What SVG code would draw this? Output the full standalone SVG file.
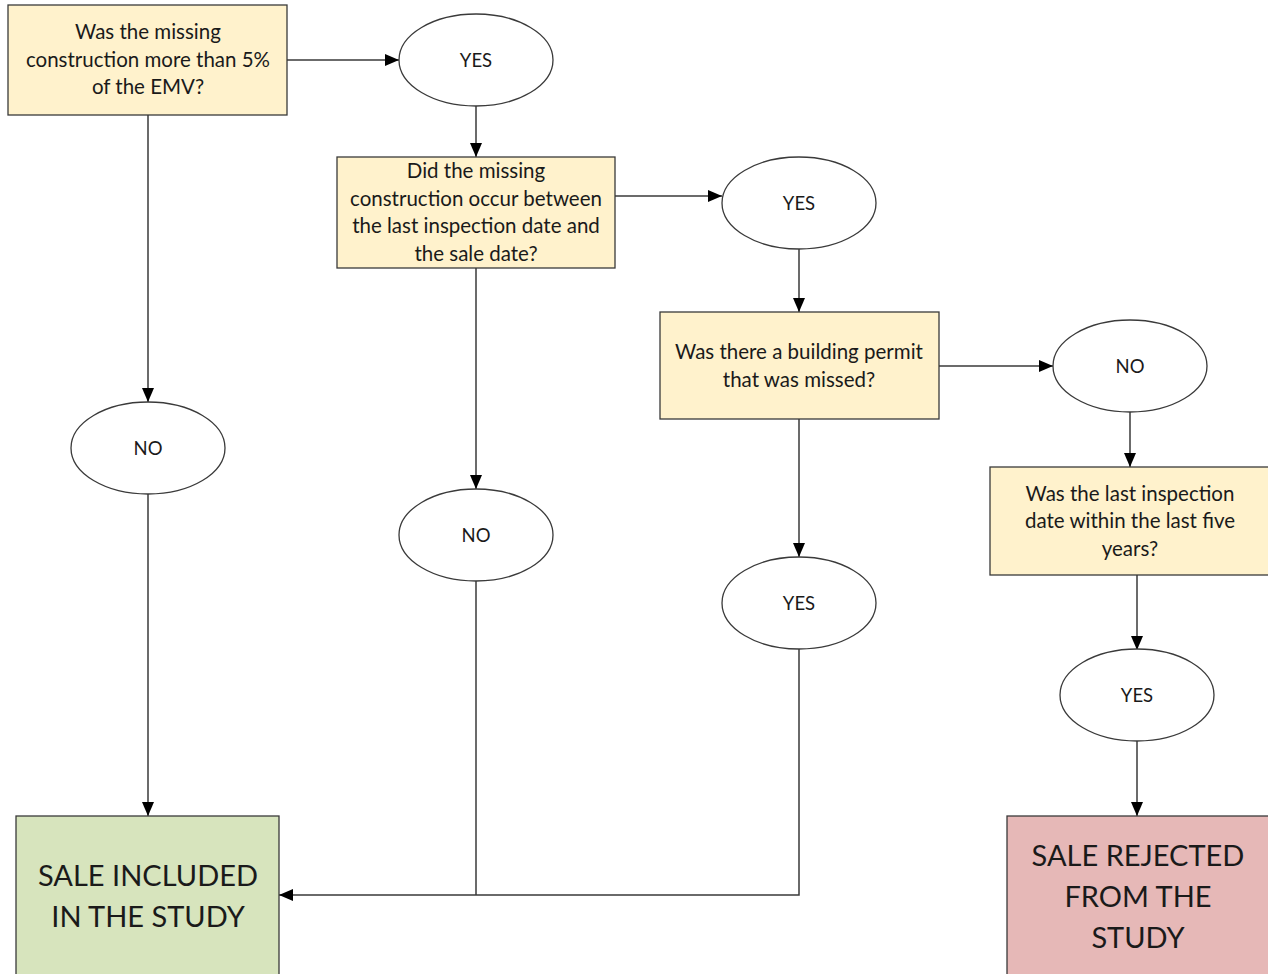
<svg xmlns="http://www.w3.org/2000/svg" width="1268" height="974" viewBox="0 0 1268 974">
<defs>
<marker id="ah" viewBox="0 0 10 10" refX="10" refY="5" markerWidth="14" markerHeight="12" markerUnits="userSpaceOnUse" orient="auto" preserveAspectRatio="none">
<path d="M0,0 L10,5 L0,10 z" fill="#000"/>
</marker>
<style>
.q{fill:#FFF2CC;stroke:#3a3a3a;stroke-width:1.3}
.e{fill:#fff;stroke:#3a3a3a;stroke-width:1.3}
.t{font-family:Lato,"Open Sans",sans-serif;font-size:20.5px;fill:#1a1a1a;text-anchor:middle}
.s{font-family:Lato,"Open Sans",sans-serif;font-size:18.5px;fill:#1a1a1a;text-anchor:middle}
.b{font-family:Lato,"Open Sans",sans-serif;font-size:29px;fill:#1a1a1a;text-anchor:middle}
.c{fill:none;stroke:#3a3a3a;stroke-width:1.5}
.a{marker-end:url(#ah)}
</style>
</defs>
<rect width="1268" height="974" fill="#fff"/>
<g id="connectors">
<line class="c a" x1="287" y1="60" x2="399" y2="60"/>
<line class="c a" x1="476" y1="106" x2="476" y2="157"/>
<line class="c a" x1="615" y1="196" x2="722" y2="196"/>
<line class="c a" x1="799" y1="249" x2="799" y2="312"/>
<line class="c a" x1="939" y1="366" x2="1053" y2="366"/>
<line class="c a" x1="1130" y1="411" x2="1130" y2="467"/>
<line class="c a" x1="1137" y1="575" x2="1137" y2="650"/>
<line class="c a" x1="1137" y1="741" x2="1137" y2="816"/>
<line class="c a" x1="148" y1="115" x2="148" y2="402"/>
<line class="c a" x1="148" y1="494" x2="148" y2="816"/>
<line class="c a" x1="476" y1="268" x2="476" y2="489"/>
<line class="c a" x1="799" y1="419" x2="799" y2="557"/>
<polyline class="c" points="476,581 476,895"/>
<polyline class="c a" points="799,649 799,895 279,895"/>
</g>
<g id="q1">
<rect class="q" x="8" y="5" width="279" height="110"/>
<text class="t" x="148" y="39">Was the missing</text>
<text class="t" x="148" y="67">construction more than 5%</text>
<text class="t" x="148" y="94">of the EMV?</text>
</g>
<g id="yes1">
<ellipse class="e" cx="476" cy="60" rx="77" ry="46"/>
<text class="s" x="476" y="67">YES</text>
</g>
<g id="q2">
<rect class="q" x="337" y="157" width="278" height="111"/>
<text class="t" x="476" y="178">Did the missing</text>
<text class="t" x="476" y="206">construction occur between</text>
<text class="t" x="476" y="233">the last inspection date and</text>
<text class="t" x="476" y="261">the sale date?</text>
</g>
<g id="yes2">
<ellipse class="e" cx="799" cy="203" rx="77" ry="46"/>
<text class="s" x="799" y="210">YES</text>
</g>
<g id="q3">
<rect class="q" x="660" y="312" width="279" height="107"/>
<text class="t" x="799" y="359">Was there a building permit</text>
<text class="t" x="799" y="387">that was missed?</text>
</g>
<g id="no3">
<ellipse class="e" cx="1130" cy="366" rx="77" ry="46"/>
<text class="s" x="1130" y="373">NO</text>
</g>
<g id="q4">
<rect class="q" x="990" y="467" width="280" height="108"/>
<text class="t" x="1130" y="501">Was the last inspection</text>
<text class="t" x="1130" y="528">date within the last five</text>
<text class="t" x="1130" y="556">years?</text>
</g>
<g id="yes4">
<ellipse class="e" cx="1137" cy="695" rx="77" ry="46"/>
<text class="s" x="1137" y="702">YES</text>
</g>
<g id="no1">
<ellipse class="e" cx="148" cy="448" rx="77" ry="46"/>
<text class="s" x="148" y="455">NO</text>
</g>
<g id="no2">
<ellipse class="e" cx="476" cy="535" rx="77" ry="46"/>
<text class="s" x="476" y="542">NO</text>
</g>
<g id="yes3">
<ellipse class="e" cx="799" cy="603" rx="77" ry="46"/>
<text class="s" x="799" y="610">YES</text>
</g>
<g id="included">
<rect x="16" y="816" width="263" height="170" fill="#D7E4BD" stroke="#3a3a3a" stroke-width="1.3"/>
<text class="b" x="148" y="886">SALE INCLUDED</text>
<text class="b" x="148" y="927">IN THE STUDY</text>
</g>
<g id="rejected">
<rect x="1007" y="816" width="263" height="170" fill="#E6B8B7" stroke="#3a3a3a" stroke-width="1.3"/>
<text class="b" x="1138" y="866">SALE REJECTED</text>
<text class="b" x="1138" y="907">FROM THE</text>
<text class="b" x="1138" y="948">STUDY</text>
</g>
</svg>
